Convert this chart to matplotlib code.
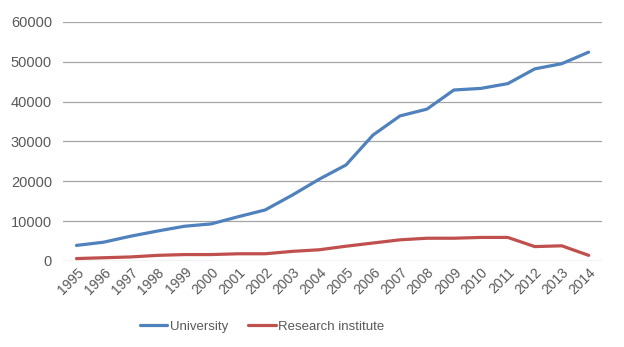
import matplotlib
matplotlib.use("Agg")
import matplotlib.pyplot as plt

years = [str(y) for y in range(1995, 2015)]
university = [3900, 4700, 6200, 7500, 8700, 9300, 11100, 12800, 16500, 20500,
              24100, 31600, 36400, 38100, 42900, 43300, 44500, 48200, 49500, 52400]
research = [600, 800, 1000, 1400, 1600, 1600, 1800, 1800, 2400, 2800,
            3700, 4500, 5300, 5700, 5700, 5900, 5900, 3600, 3800, 1400]
yticks = [0, 10000, 20000, 30000, 40000, 50000, 60000]

plt.rcParams['font.family'] = ['Liberation Sans', 'DejaVu Sans']
fig = plt.figure(figsize=(6.24, 3.47), dpi=100)
ax = fig.add_axes([0.101, 0.248, 0.864, 0.689])
x = list(range(len(years)))
ax.plot(x, university, color='#4F81BD', lw=2.3, label='University', solid_capstyle='round')
ax.plot(x, research, color='#C0504D', lw=2.3, label='Research institute', solid_capstyle='round')
ax.set_xlim(-0.5, len(years) - 0.5)
ax.set_ylim(0, 60000)
ax.set_yticks(yticks)
ax.set_yticklabels([str(v) for v in yticks])
ax.set_xticks(x)
ax.set_xticklabels(years, rotation=45, ha='right', rotation_mode='anchor')
ax.grid(axis='y', color='#A6A6A6', lw=0.9)
ax.set_axisbelow(True)
for s in ax.spines.values():
    s.set_visible(False)
ax.tick_params(length=0, labelsize=10, colors='#595959')
ax.tick_params(axis='y', labelsize=10.5, pad=8)
ax.tick_params(axis='x', pad=3)
leg = fig.legend(loc='center', bbox_to_anchor=(0.42, 0.058), ncol=2, frameon=False,
                 fontsize=9.5, handlelength=2.1, columnspacing=1.5, handletextpad=0.2)
for t in leg.get_texts():
    t.set_color('#595959')
fig.savefig('out.png', dpi=100)
